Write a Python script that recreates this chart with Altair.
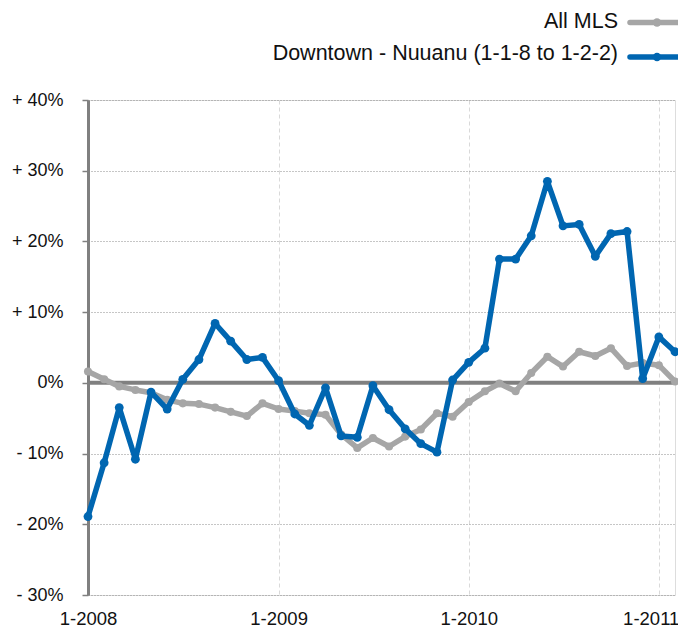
import altair as alt
import pandas as pd

# ---- data ----
months = pd.date_range("2008-01-01", "2011-02-01", freq="MS").strftime("%Y-%m-%d").tolist()

all_mls = [1.6, 0.5, -0.5, -1.0, -1.4, -2.4, -2.9, -3.0, -3.5, -4.1, -4.7, -2.9,
           -3.7, -4.0, -4.3, -4.5, -7.3, -9.2, -7.8, -9.0, -7.6, -6.6, -4.3, -4.8,
           -2.7, -1.2, -0.1, -1.2, 1.4, 3.7, 2.3, 4.4, 3.8, 4.9, 2.4, 2.8,
           2.5, 0.2]

downtown = [-18.9, -11.3, -3.5, -10.8, -1.3, -3.7, 0.5, 3.3, 8.4, 5.9, 3.3, 3.6,
            0.3, -4.4, -6.0, -0.7, -7.5, -7.7, -0.4, -3.8, -6.5, -8.6, -9.8, 0.4,
            2.9, 4.9, 17.5, 17.5, 20.8, 28.5, 22.2, 22.4, 17.9, 21.1, 21.4, 0.6,
            6.5, 4.4]

series_names = ["All MLS", "Downtown - Nuuanu (1-1-8 to 1-2-2)"]
series_colors = ["#a6a6a6", "#0066b1"]
y_ticks = [-30, -20, -10, 0, 10, 20, 30, 40]
x_tick_years = [2008, 2009, 2010, 2011]

FONT = "Liberation Sans"

df_all = pd.DataFrame({"date": months, "value": all_mls, "series": series_names[0]})
df_dt = pd.DataFrame({"date": months, "value": downtown, "series": series_names[1]})

x_scale = alt.Scale(
    type="utc",
    domain=[alt.DateTime(year=2008, month=1, date=1, utc=True),
            alt.DateTime(year=2011, month=2, date=1, utc=True)],
)
y_scale = alt.Scale(domain=[-30, 40], nice=False, zero=False)

x_axis = alt.Axis(
    values=[alt.DateTime(year=yy, month=1, date=1, utc=True) for yy in x_tick_years],
    labelExpr="utcFormat(datum.value, '%-m-%Y')",
    title=None, domain=False, ticks=False,
    grid=True, gridColor="#d9d9d9", gridDash=[4, 3], gridWidth=1,
    labelFontSize=18.5, labelFont=FONT, labelColor="#111", labelPadding=14,
    labelAlign={"condition": {"test": "utcyear(datum.value) >= 2011", "value": "right"},
                "value": "center"},
    labelOffset={"condition": {"test": "utcyear(datum.value) >= 2011", "value": 20},
                 "value": 0},
    labelBound=False,
)
y_axis = alt.Axis(
    values=y_ticks,
    labelExpr="datum.value > 0 ? '+ ' + datum.value + '%' : (datum.value < 0 ? '- ' + (-datum.value) + '%' : '0%')",
    title=None, domain=True, domainColor="#808080", domainWidth=3,
    ticks=True, tickColor="#808080", tickSize=6, tickWidth=1.5,
    grid=True, gridColor="#8c8c8c", gridDash=[1, 2], gridWidth=1,
    labelFontSize=18, labelFont=FONT, labelColor="#111", labelPadding=19,
)

axes_layer = alt.Chart(df_all).mark_line(opacity=0).encode(
    x=alt.X("date:T", scale=x_scale, axis=x_axis),
    y=alt.Y("value:Q", scale=y_scale, axis=y_axis),
)

zero_rule = alt.Chart(pd.DataFrame({"value": [0]})).mark_rule(
    color="#808080", strokeWidth=4
).encode(y=alt.Y("value:Q", scale=y_scale))

def series_layer(df, color, size):
    return alt.Chart(df).mark_line(
        color=color, strokeWidth=5.5, strokeJoin="round", strokeCap="round",
        point=alt.OverlayMarkDef(filled=True, size=size, color=color, opacity=1),
    ).encode(
        x=alt.X("date:T", scale=x_scale),
        y=alt.Y("value:Q", scale=y_scale),
    )

grey = series_layer(df_all, series_colors[0], 65)
blue = series_layer(df_dt, series_colors[1], 78)

# ---- manual legend (labels left of symbols) ----
legend_layers = []
legend_text_y = [-78, -46.5]
legend_sym_y = [-77.5, -43]
for name, color, ty, sy in zip(series_names, series_colors, legend_text_y, legend_sym_y):
    ldf = pd.DataFrame({"label": [name]})
    txt = alt.Chart(ldf).mark_text(
        align="right", baseline="middle", fontSize=21.5, font=FONT, color="#111"
    ).encode(text="label:N", x=alt.value(530), y=alt.value(ty))
    line = alt.Chart(ldf).mark_rule(color=color, strokeWidth=5.5, strokeCap="round").encode(
        x=alt.value(542), x2=alt.value(589), y=alt.value(sy)
    )
    dot = alt.Chart(ldf).mark_point(filled=True, size=70, color=color, opacity=1).encode(
        x=alt.value(569), y=alt.value(sy)
    )
    legend_layers += [txt, line, dot]

chart = alt.layer(axes_layer, zero_rule, grey, blue, *legend_layers).properties(
    width=587, height=495,
    autosize=alt.AutoSizeParams(type="none"),
    padding={"left": 80, "top": 92, "right": 3, "bottom": 36},
).configure_view(
    stroke="#999999", strokeDash=[1, 2], strokeWidth=1
).configure(background="white")

chart.save("out.html", embed_options={"renderer": "svg", "actions": False})
